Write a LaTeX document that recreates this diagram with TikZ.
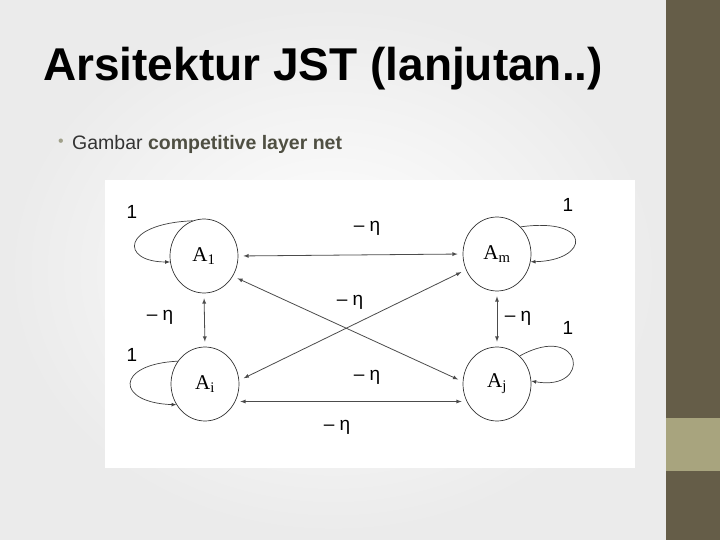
\documentclass[tikz,border=0pt]{standalone}
\usepackage{fontspec}
\setmainfont{Liberation Sans}
\newfontfamily\neuronfont{Liberation Serif}
\usetikzlibrary{shapes.geometric}
\definecolor{bandDark}{HTML}{655D48}
\definecolor{bandLight}{HTML}{A8A47E}
\definecolor{plainGray}{HTML}{333333}
\definecolor{boldGray}{HTML}{4F4F42}
\definecolor{dotGray}{HTML}{A0A08A}
\tikzset{
  neuron/.style={draw=black!80,line width=0.7pt,ellipse,minimum width=68pt,minimum height=74pt,inner sep=0pt,font=\neuronfont\fontsize{21}{21}\selectfont},
  link/.style={{latex}-{latex},draw=black!70,line width=0.8pt,shorten >=5pt,shorten <=5pt},
  selfloop/.style={-latex,draw=black!75,line width=0.7pt},
  weight/.style={inner sep=0pt,font=\fontsize{19}{19}\selectfont}
}
\begin{document}
\begin{tikzpicture}[x=1pt,y=-1pt]
\useasboundingbox (0,0) rectangle (720,540);
% slide background
\shade[inner color=white,outer color=black!8] (0,0) rectangle (666,540);
\fill[white] (105,180) rectangle (635,468);
\fill[bandDark] (666,0) rectangle (720,540);
\fill[bandLight] (666,418) rectangle (720,471);
% title and bullet
\node[anchor=base west,inner sep=0pt,font=\bfseries\fontsize{46}{46}\selectfont] (title) at (43,81) {Arsitektur JST (lanjutan..)};
\node[inner sep=0pt,text=dotGray,font=\fontsize{16}{16}\selectfont] (dot) at (61,143) {•};
\node[anchor=base west,inner sep=0pt,font=\fontsize{19.5}{19.5}\selectfont] (caption) at (72,150) {\textcolor{plainGray}{Gambar} \textcolor{boldGray}{\bfseries competitive layer net}};
% neurons
\node[neuron] (a1) at (204,256) {A\textsubscript{1}};
\node[neuron] (ai) at (205,384) {A\textsubscript{i}};
\node[neuron] (am) at (497,254) {A\textsubscript{m}};
\node[neuron] (aj) at (497,384) {A\textsubscript{j}};
% self loops
\draw[selfloop] (a1.108) .. controls +(-72,3) and +(-50,0) .. (a1.190);
\draw[selfloop] (ai.140) .. controls +(-63,3) and +(-61,-2) .. (ai.216);
\draw[selfloop] (am.49) .. controls +(73,-10) and +(59,-1) .. (am.347);
\draw[selfloop] (aj.51) .. controls +(63,-35) and +(62,11) .. (aj.5);
% inhibitory links
\draw[link] (a1.east) -- (am.west);
\draw[link] (ai.-30) -- (aj.-150);
\draw[link] (a1.south) -- (ai.north);
\draw[link] (am.south) -- (aj.north);
\draw[link] (a1.-35) -- (aj.176);
\draw[link] (ai.6) -- (am.207);
% weights
\node[weight] (w1) at (132,212) {1};
\node[weight] (wi) at (132,355) {1};
\node[weight] (wm) at (568,205) {1};
\node[weight] (wj) at (568,328) {1};
\node[weight] (etaTop) at (367,228) {– η};
\node[weight] (etaMid) at (350,302) {– η};
\node[weight] (etaLow) at (367,377) {– η};
\node[weight] (etaBot) at (337,427) {– η};
\node[weight] (etaLeft) at (160,317) {– η};
\node[weight] (etaRight) at (518,318) {– η};
\end{tikzpicture}
\end{document}
